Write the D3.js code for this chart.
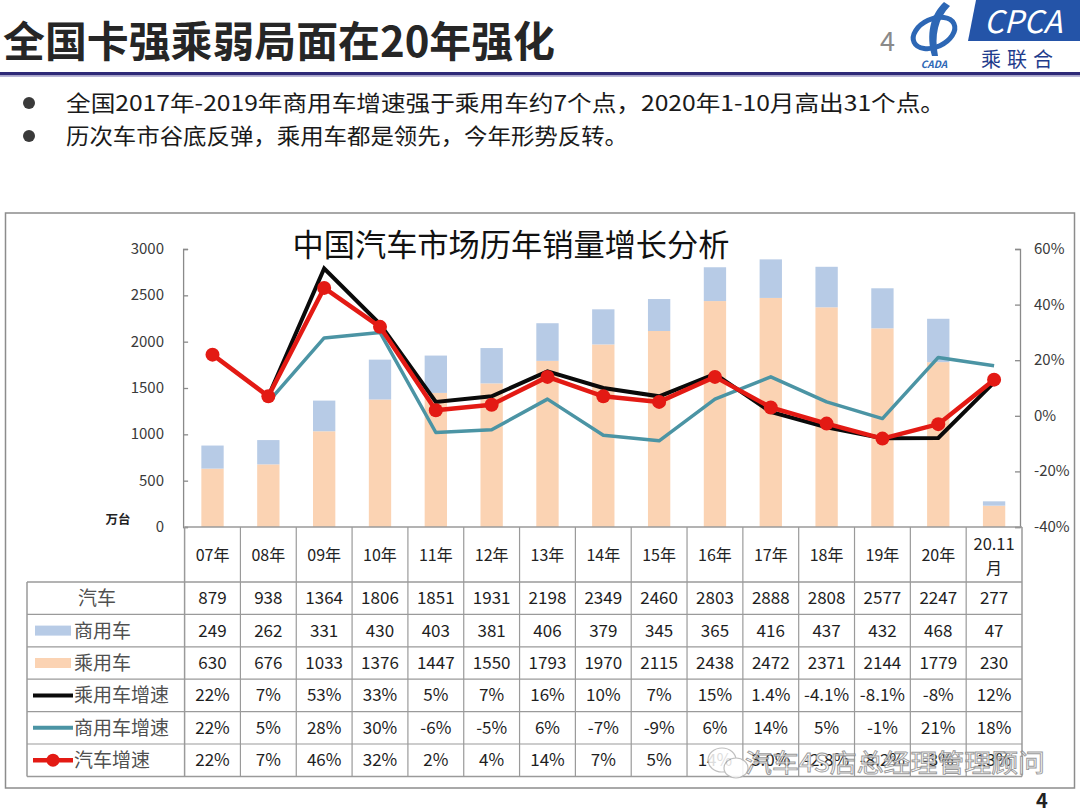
<!DOCTYPE html>
<html><head><meta charset="utf-8">
<script src="https://cdn.jsdelivr.net/npm/d3@7"></script>
<style>
html,body{margin:0;padding:0;background:#fff;}
svg text{font-family:"Noto Sans CJK SC","Noto Sans",sans-serif;}
</style></head>
<body>
<script>
// ---------------- DATA ----------------
const categories = ["07年","08年","09年","10年","11年","12年","13年","14年","15年","16年","17年","18年","19年","20年","20.11月"];
const carTotal   = [879,938,1364,1806,1851,1931,2198,2349,2460,2803,2888,2808,2577,2247,277];
const commercial = [249,262,331,430,403,381,406,379,345,365,416,437,432,468,47];
const passenger  = [630,676,1033,1376,1447,1550,1793,1970,2115,2438,2472,2371,2144,1779,230];
const passengerGrowth  = [22,7,53,33,5,7,16,10,7,15,1.4,-4.1,-8.1,-8,12];
const commercialGrowth = [22,5,28,30,-6,-5,6,-7,-9,6,14,5,-1,21,18];
const carGrowth        = [22,7,46,32,2,4,14,7,5,14,3.0,-2.8,-8.2,-3,13];
const passengerGrowthLabels  = ["22%","7%","53%","33%","5%","7%","16%","10%","7%","15%","1.4%","-4.1%","-8.1%","-8%","12%"];
const commercialGrowthLabels = ["22%","5%","28%","30%","-6%","-5%","6%","-7%","-9%","6%","14%","5%","-1%","21%","18%"];
const carGrowthLabels        = ["22%","7%","46%","32%","2%","4%","14%","7%","5%","14%","3.0%","-2.8%","-8.2%","-3%","13%"];
const leftTicks  = [0,500,1000,1500,2000,2500,3000];
const rightTicks = [-40,-20,0,20,40,60];

// ---------------- SETUP ----------------
const W = 1080, H = 810;
const svg = d3.select("body").append("svg").attr("width", W).attr("height", H);

const colPV = "#fbd3b3", colCV = "#b7cbe6";
const colBlack = "#0a0a0a", colTeal = "#4b94a4", colRed = "#e31a14";
const gridCol = "#9a9a9a";

// ---------------- HEADER ----------------
svg.append("text").attr("x", 3).attr("y", 57)
  .attr("font-size", 42).attr("font-weight", 700).attr("fill", "#262626")
  .attr("textLength", 552).attr("lengthAdjust", "spacingAndGlyphs")
  .text("全国卡强乘弱局面在20年强化");

svg.append("rect").attr("x", 0).attr("y", 72).attr("width", W).attr("height", 3.5).attr("fill", "#2e2a78");
svg.append("rect").attr("x", 0).attr("y", 75.5).attr("width", W).attr("height", 1.5).attr("fill", "#b9b6d8");

// page number + logo
svg.append("text").attr("x", 880).attr("y", 51).attr("font-size", 27).attr("fill", "#8a8a8a")
  .attr("font-family", "Liberation Sans").text("4");
const logo = svg.append("g");
logo.append("path").attr("d", "M976,0 L1080,0 L1080,41 L968,41 Z").attr("fill", "#2454a8");
logo.append("text").attr("x", 1023).attr("y", 33).attr("text-anchor", "middle")
  .attr("font-size", 31).attr("font-style", "italic").attr("fill", "#fff")
  .attr("font-family", "Liberation Sans").text("CPCA");
logo.append("text").attr("x", 1020).attr("y", 67).attr("text-anchor", "middle")
  .attr("font-size", 20).attr("fill", "#1f3c8c").attr("letter-spacing", 6).text("乘联合");
logo.append("ellipse").attr("cx", 934).attr("cy", 33).attr("rx", 22).attr("ry", 14)
  .attr("fill", "none").attr("stroke", "#2d67b5").attr("stroke-width", 5)
  .attr("transform", "rotate(-25,934,33)");
logo.append("path").attr("d", "M944,2 C930,15 926,35 932,56 L938,56 C934,36 938,18 950,6 Z").attr("fill", "#2d67b5");
logo.append("text").attr("x", 934).attr("y", 68).attr("text-anchor", "middle")
  .attr("font-size", 10).attr("font-weight", 700).attr("font-style", "italic")
  .attr("fill", "#2d67b5").attr("font-family", "Liberation Sans").text("CADA");

// bullets
const bullets = [
  {y: 111, t: "全国2017年-2019年商用车增速强于乘用车约7个点，2020年1-10月高出31个点。", len: 879},
  {y: 144, t: "历次车市谷底反弹，乘用车都是领先，今年形势反转。", len: 562}
];
bullets.forEach(b => {
  svg.append("circle").attr("cx", 29).attr("cy", b.y - 8).attr("r", 6).attr("fill", "#3a3a3a");
  svg.append("text").attr("x", 66).attr("y", b.y).attr("font-size", 22).attr("fill", "#1a1a1a")
    .attr("textLength", b.len).attr("lengthAdjust", "spacingAndGlyphs").text(b.t);
});

// ---------------- CHART FRAME ----------------
svg.append("rect").attr("x", 5.5).attr("y", 213).attr("width", 1069).attr("height", 575)
  .attr("fill", "none").attr("stroke", "#8c8c8c").attr("stroke-width", 1.5);

svg.append("text").attr("x", 511).attr("y", 256).attr("text-anchor", "middle")
  .attr("font-size", 31).attr("fill", "#111")
  .attr("textLength", 437).attr("lengthAdjust", "spacingAndGlyphs").text("中国汽车市场历年销量增长分析");

// scales
const x0 = 184.6, x1 = 1022;
const x = d3.scaleBand().domain(categories).range([x0, x1]).paddingInner(0.6).paddingOuter(0.3);
const yTop = 249, yBot = 527;
const yL = d3.scaleLinear().domain([0, 3000]).range([yBot, yTop]);
const yR = d3.scaleLinear().domain([-40, 60]).range([yBot, yTop]);
const cx = d => x(d) + x.bandwidth() / 2;

// axes
const axL = svg.append("g").attr("transform", `translate(${x0 - 1.5},0)`)
  .call(d3.axisRight(yL).tickValues(leftTicks).tickSize(5).tickFormat(""));
axL.selectAll("path,line").attr("stroke", "#8a8a8a").attr("stroke-width", 1.3);
leftTicks.forEach(v => {
  svg.append("text").attr("x", 164).attr("y", yL(v) + 5).attr("text-anchor", "end")
    .attr("font-size", 15).attr("fill", "#3a3a3a").attr("font-family", "Liberation Sans").text(v);
});
svg.append("text").attr("x", 118).attr("y", 524).attr("text-anchor", "middle")
  .attr("font-size", 12.5).attr("font-weight", 700).attr("fill", "#222").text("万台");

const axR = svg.append("g").attr("transform", `translate(1020,0)`)
  .call(d3.axisLeft(yR).tickValues(rightTicks).tickSize(5).tickFormat(""));
axR.selectAll("path,line").attr("stroke", "#8a8a8a").attr("stroke-width", 1.3);
rightTicks.forEach(v => {
  svg.append("text").attr("x", 1034).attr("y", yR(v) + 5)
    .attr("font-size", 15).attr("fill", "#3a3a3a").attr("font-family", "Liberation Sans").text(v + "%");
});

// bars
const barData = categories.map((c, i) => ({c, pv: passenger[i], cv: commercial[i], tot: carTotal[i]}));
svg.append("g").selectAll("rect").data(barData).join("rect")
  .attr("x", d => x(d.c)).attr("width", x.bandwidth())
  .attr("y", d => yL(d.pv)).attr("height", d => yBot - yL(d.pv)).attr("fill", colPV);
svg.append("g").selectAll("rect").data(barData).join("rect")
  .attr("x", d => x(d.c)).attr("width", x.bandwidth())
  .attr("y", d => yL(d.pv + d.cv)).attr("height", d => yL(d.pv) - yL(d.pv + d.cv)).attr("fill", colCV);

// lines
const mkLine = arr => d3.line().x((d, i) => cx(categories[i])).y(d => yR(d))(arr);
svg.append("path").attr("d", mkLine(commercialGrowth.slice(1))).attr("transform", `translate(${x.step()},0)`)
  .attr("fill", "none").attr("stroke", colTeal).attr("stroke-width", 3.5).attr("stroke-linejoin", "round");
svg.append("path").attr("d", mkLine(passengerGrowth.slice(1))).attr("transform", `translate(${x.step()},0)`)
  .attr("fill", "none").attr("stroke", colBlack).attr("stroke-width", 4).attr("stroke-linejoin", "miter");
svg.append("path").attr("d", mkLine(carGrowth))
  .attr("fill", "none").attr("stroke", colRed).attr("stroke-width", 4.5).attr("stroke-linejoin", "round");
svg.append("g").selectAll("circle").data(carGrowth).join("circle")
  .attr("cx", (d, i) => cx(categories[i])).attr("cy", d => yR(d)).attr("r", 7).attr("fill", colRed);

// ---------------- TABLE ----------------
const tblLeft = 27, hdrTop = 527, hdrBot = 582, rowH = 32.4;
const rows = [
  {label: "汽车", vals: carTotal.map(String), key: "none"},
  {label: "商用车", vals: commercial.map(String), key: "cv"},
  {label: "乘用车", vals: passenger.map(String), key: "pv"},
  {label: "乘用车增速", vals: passengerGrowthLabels, key: "black"},
  {label: "商用车增速", vals: commercialGrowthLabels, key: "teal"},
  {label: "汽车增速", vals: carGrowthLabels, key: "red"}
];
const tblBot = hdrBot + rows.length * rowH;
const tg = svg.append("g");
categories.forEach((c, i) => {
  const cxx = cx(c);
  if (c === "20.11月") {
    tg.append("text").attr("x", cxx).attr("y", 550).attr("text-anchor", "middle").attr("font-size", 16.5).attr("fill", "#222")
      .attr("font-family", "Liberation Sans").text("20.11");
    tg.append("text").attr("x", cxx).attr("y", 574).attr("text-anchor", "middle").attr("font-size", 16).attr("fill", "#222").text("月");
  } else {
    tg.append("text").attr("x", cxx).attr("y", 561).attr("text-anchor", "middle").attr("font-size", 16).attr("fill", "#222").text(c);
  }
});
rows.forEach((r, ri) => {
  const yc = hdrBot + ri * rowH + rowH / 2;
  r.vals.forEach((v, i) => {
    tg.append("text").attr("x", cx(categories[i])).attr("y", yc + 6).attr("text-anchor", "middle")
      .attr("font-size", 17).attr("fill", "#1e1e1e").attr("font-family", "Liberation Sans").text(v);
  });
  let tx = 74, anchor = "start";
  if (r.key === "none") { tx = 97; anchor = "middle"; }
  else if (r.key === "cv" || r.key === "pv") {
    tg.append("rect").attr("x", 35).attr("y", yc - 5).attr("width", 36).attr("height", 10).attr("fill", r.key === "cv" ? colCV : colPV);
  } else {
    const col = r.key === "black" ? colBlack : r.key === "teal" ? colTeal : colRed;
    tg.append("line").attr("x1", 33).attr("x2", 73).attr("y1", yc).attr("y2", yc).attr("stroke", col).attr("stroke-width", r.key === "red" ? 4.5 : 4);
    if (r.key === "red") tg.append("circle").attr("cx", 53).attr("cy", yc).attr("r", 6.5).attr("fill", colRed);
  }
  tg.append("text").attr("x", tx).attr("y", yc + 7).attr("text-anchor", anchor)
    .attr("font-size", 19).attr("fill", "#505050").text(r.label);
});
const gl = (x1_, y1_, x2_, y2_, w) => tg.append("line").attr("x1", x1_).attr("y1", y1_).attr("x2", x2_).attr("y2", y2_)
  .attr("stroke", gridCol).attr("stroke-width", w || 1.2);
gl(x0, hdrTop, x1, hdrTop, 1.5);
for (let k = 0; k <= rows.length; k++) gl(tblLeft, hdrBot + k * rowH, x1, hdrBot + k * rowH, (k === 0 || k === rows.length) ? 1.5 : 1.2);
gl(tblLeft, hdrBot, tblLeft, tblBot, 1.5);
for (let i = 0; i <= categories.length; i++) {
  const xx = x0 + i * x.step();
  gl(xx, hdrTop, xx, tblBot, (i === 0 || i === categories.length) ? 1.5 : 1.2);
}

// watermark (as in the reference image)
const wm = svg.append("g").attr("opacity", 0.85);
wm.append("ellipse").attr("cx", 722).attr("cy", 760).attr("rx", 14).attr("ry", 12).attr("fill", "#fff").attr("stroke", "#b5b5b5").attr("stroke-width", 1.2);
wm.append("ellipse").attr("cx", 736).attr("cy", 768).attr("rx", 12).attr("ry", 10).attr("fill", "#fff").attr("stroke", "#b5b5b5").attr("stroke-width", 1.2);
wm.append("text").attr("x", 745).attr("y", 772).attr("font-size", 25).attr("fill", "#fff")
  .attr("stroke", "#8a8a8a").attr("stroke-width", 0.9).attr("textLength", 300).attr("lengthAdjust", "spacingAndGlyphs")
  .text("汽车4S店总经理管理顾问");

// bottom page number
svg.append("text").attr("x", 1036).attr("y", 808).attr("font-size", 20).attr("font-weight", 700)
  .attr("fill", "#222").attr("font-family", "Liberation Sans").text("4");
</script>
</body></html>
